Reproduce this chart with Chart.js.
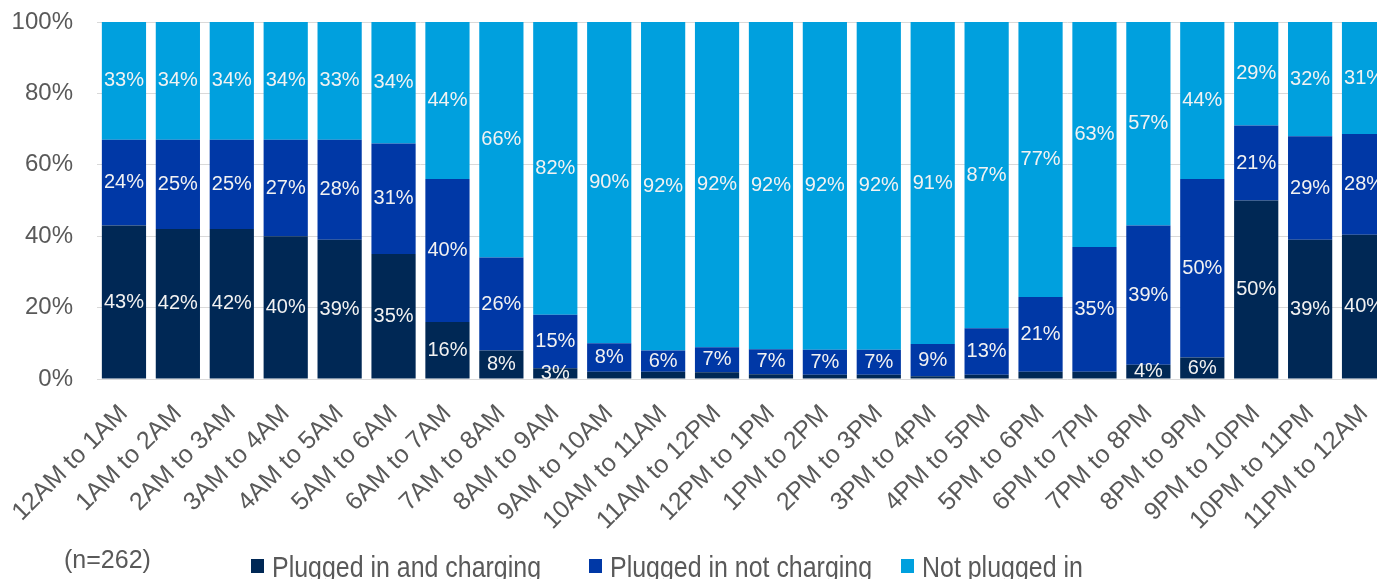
<!DOCTYPE html>
<html>
<head>
<meta charset="utf-8">
<script src="https://cdn.jsdelivr.net/npm/chart.js@4.4.1/dist/chart.umd.min.js"></script>
<style>
  html, body { margin: 0; padding: 0; background: #fff; overflow: hidden; }
  #wrap { position: relative; width: 1400px; height: 579px; }
  #note { position: absolute; left: 64px; top: 547px; font: 25px "Liberation Sans", Arial, sans-serif; line-height: 25px; color: #595959; }
  .leg { position: absolute; top: 553px; font: 29px "Liberation Sans", Arial, sans-serif; line-height: 29px; color: #595959; white-space: nowrap; }
  .leg i { position: absolute; left: 0; top: 6px; width: 13px; height: 14px; }
  .leg span { display: inline-block; margin-left: 21px; transform: scaleX(0.86); transform-origin: left center; }
</style>
</head>
<body>
<div id="wrap">
  <canvas id="chart" width="1400" height="579"></canvas>
  <div id="note">(n=262)</div>
  <div id="legend"></div>
</div>
<script>
const hours = [
  "12AM to 1AM", "1AM to 2AM", "2AM to 3AM", "3AM to 4AM", "4AM to 5AM", "5AM to 6AM",
  "6AM to 7AM", "7AM to 8AM", "8AM to 9AM", "9AM to 10AM", "10AM to 11AM", "11AM to 12PM",
  "12PM to 1PM", "1PM to 2PM", "2PM to 3PM", "3PM to 4PM", "4PM to 5PM", "5PM to 6PM",
  "6PM to 7PM", "7PM to 8PM", "8PM to 9PM", "9PM to 10PM", "10PM to 11PM", "11PM to 12AM"
];

// percent of vehicles per hour (small unlabeled slivers)
const charging    = [43, 42, 42, 40, 39, 35, 16, 8, 3, 2, 2, 1.9, 1.3, 1.2, 1.2, 0.8, 1.2, 2, 2, 4, 6, 50, 39, 40.4];
const notCharging = [24, 25, 25, 27, 28, 31, 40, 26, 15, 8, 6, 7, 7, 7, 7, 9, 13, 21, 35, 39, 50, 21, 29, 28.2];
const notPlugged  = [33, 34, 34, 34, 33, 34, 44, 66, 82, 90, 92, 92, 92, 92, 92, 91, 87, 77, 63, 57, 44, 29, 32, 31.4];

const yTicks = [0, 20, 40, 60, 80, 100];

const seriesNames = ["Plugged in and charging", "Plugged in not charging", "Not plugged in"];
const seriesColors = ["#002855", "#0038a6", "#00a0de"];

// white % labels in the middle of each segment
const barLabels = {
  id: "barLabels",
  afterDatasetsDraw(chart) {
    const ctx = chart.ctx;
    const area = chart.chartArea;
    ctx.save();
    ctx.font = "20px 'Liberation Sans', Arial, sans-serif";
    ctx.fillStyle = "#f2f2f2";
    ctx.textAlign = "center";
    ctx.textBaseline = "middle";
    chart.data.datasets.forEach((ds, i) => {
      chart.getDatasetMeta(i).data.forEach((bar, j) => {
        const v = ds.data[j];
        if (v < 3) return;
        const top = Math.max(bar.y, area.top);
        ctx.fillText(Math.round(v) + "%", bar.x, (top + bar.base) / 2);
      });
    });
    ctx.restore();
  }
};

const datasets = [charging, notCharging, notPlugged].map((data, i) => ({
  label: seriesNames[i],
  data: data,
  backgroundColor: seriesColors[i],
  borderWidth: 0,
  barPercentage: 0.82,
  categoryPercentage: 1.0
}));

new Chart(document.getElementById("chart"), {
  type: "bar",
  data: { labels: hours, datasets: datasets },
  options: {
    responsive: false,
    animation: false,
    layout: { padding: { top: 22, left: 0, right: 9, bottom: 0 } },
    plugins: {
      legend: { display: false },
      tooltip: { enabled: false }
    },
    scales: {
      x: {
        stacked: true,
        grid: { display: false },
        border: { display: false },
        ticks: {
          autoSkip: false,
          maxRotation: 45,
          minRotation: 45,
          padding: 12,
          color: "#595959",
          font: { family: "'Liberation Sans', Arial, sans-serif", size: 25 }
        },
        afterFit: scale => {
          scale.height = 200;
          scale.paddingLeft = 0;
          scale.paddingRight = 0;
        }
      },
      y: {
        stacked: true,
        min: 0,
        max: 100,
        afterBuildTicks: scale => { scale.ticks = yTicks.map(v => ({ value: v })); },
        grid: { color: "#d9d9d9", lineWidth: 1, drawTicks: false },
        border: { display: false },
        ticks: {
          padding: 24,
          color: "#595959",
          font: { family: "'Liberation Sans', Arial, sans-serif", size: 24 },
          callback: v => v + "%"
        },
        afterFit: scale => {
          scale.width = 97;
          scale.paddingTop = 0;
          scale.paddingBottom = 0;
        }
      }
    }
  },
  plugins: [barLabels]
});

// legend below the chart
const legendLefts = [251, 589, 901];
const legend = document.getElementById("legend");
seriesNames.forEach((name, i) => {
  const item = document.createElement("div");
  item.className = "leg";
  item.style.left = legendLefts[i] + "px";
  item.innerHTML = `<i style="background:${seriesColors[i]}"></i><span>${name}</span>`;
  legend.appendChild(item);
});
</script>
</body>
</html>
